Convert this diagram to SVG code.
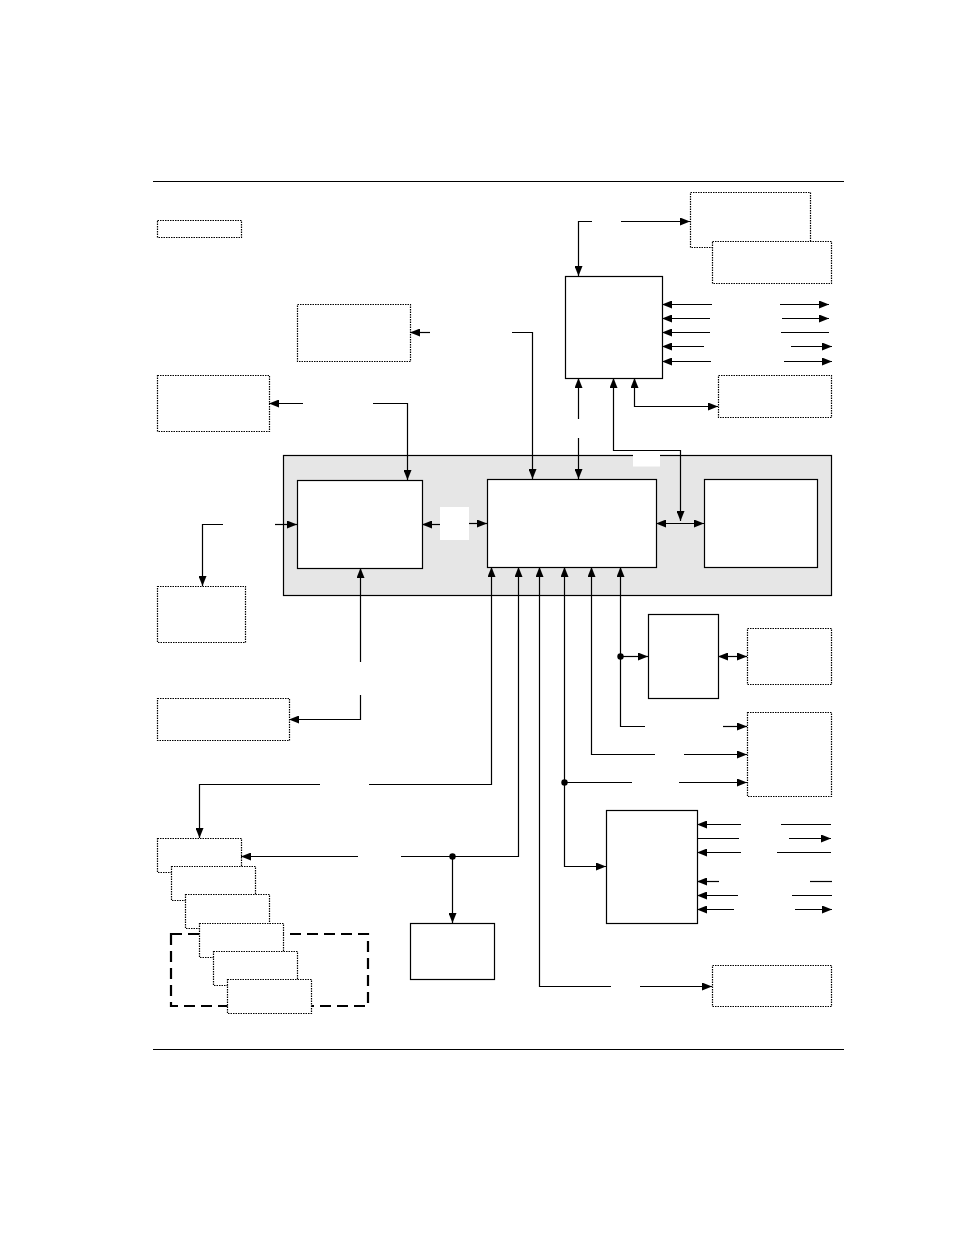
<svg xmlns="http://www.w3.org/2000/svg" width="954" height="1235" viewBox="0 0 954 1235">
<style>
.bg{fill:#ffffff}
.solid{fill:#ffffff;stroke:#000;stroke-width:1.2}
.dot{fill:#ffffff;stroke:#000;stroke-width:1.2;stroke-dasharray:1.5 1}
.dash{fill:none;stroke:#000;stroke-width:2.2;stroke-dasharray:11 6}
.gray{fill:#e6e6e6;stroke:#000;stroke-width:1.2}
.lbl{fill:#ffffff;stroke:none}
.c{fill:none;stroke:#000;stroke-width:1.2}
.a{marker-end:url(#ah)}
.b{marker-start:url(#ah)}
.rule{stroke:#000;stroke-width:1.2}
.j{fill:#000}
</style>
<defs>
<marker id="ah" viewBox="0 0 10 8" refX="10" refY="4" markerWidth="10" markerHeight="8" markerUnits="userSpaceOnUse" orient="auto-start-reverse"><path d="M0,0 L10,4 L0,8 z" fill="#000"/></marker>
</defs>
<rect class="bg" x="0" y="0" width="954" height="1235"/>
<line class="rule" x1="153" y1="181.5" x2="844" y2="181.5"/>
<line class="rule" x1="153" y1="1049.5" x2="844" y2="1049.5"/>

<g id="container"><rect class="gray" x="283.5" y="455.5" width="548" height="140"/></g>
<g id="legend"><rect class="dot" x="157.5" y="220.5" width="84" height="17"/></g>
<g id="boxA"><rect class="dot" x="297.5" y="304.5" width="113" height="57"/></g>
<g id="boxB"><rect class="dot" x="157.5" y="375.5" width="112" height="56"/></g>
<g id="boxC1"><rect class="dot" x="690.5" y="192.5" width="120" height="55"/></g>
<g id="boxC2"><rect class="dot" x="712.5" y="241.5" width="119" height="42"/></g>
<g id="boxD"><rect class="dot" x="718.5" y="375.5" width="113" height="42"/></g>
<g id="boxE"><rect class="dot" x="157.5" y="586.5" width="88" height="56"/></g>
<g id="boxF"><rect class="dot" x="157.5" y="698.5" width="132" height="42"/></g>
<g id="boxG"><rect class="dot" x="747.5" y="628.5" width="84" height="56"/></g>
<g id="boxH"><rect class="dot" x="747.5" y="712.5" width="84" height="84"/></g>
<g id="boxI"><rect class="dot" x="712.5" y="965.5" width="119" height="41"/></g>
<g id="boxJ"><rect class="solid" x="565.5" y="276.5" width="97" height="102"/></g>
<g id="boxK"><rect class="solid" x="297.5" y="480.5" width="125" height="88"/></g>
<g id="boxL"><rect class="solid" x="487.5" y="479.5" width="169" height="88"/></g>
<g id="boxM"><rect class="solid" x="704.5" y="479.5" width="113" height="88"/></g>
<g id="boxN"><rect class="solid" x="410.5" y="923.5" width="84" height="56"/></g>
<g id="boxO"><rect class="solid" x="606.5" y="810.5" width="91" height="113"/></g>
<g id="boxP"><rect class="solid" x="648.5" y="614.5" width="70" height="84"/></g>
<g id="group"><rect class="dash" x="171" y="934" width="197" height="72"/></g>
<g id="stack1"><rect class="dot" x="157.5" y="838.5" width="84" height="34"/></g>
<g id="stack2"><rect class="dot" x="171.5" y="866.5" width="84" height="34"/></g>
<g id="stack3"><rect class="dot" x="185.5" y="894.5" width="84" height="34"/></g>
<g id="stack4"><rect class="dot" x="199.5" y="923.5" width="84" height="34"/></g>
<g id="stack5"><rect class="dot" x="213.5" y="951.5" width="84" height="34"/></g>
<g id="stack6"><rect class="dot" x="227.5" y="979.5" width="84" height="34"/></g>

<g id="connectors">
<path class="c a" d="M592,221.5 H578.5 V276"/>
<path class="c a" d="M621,221.5 H690"/>
<path class="c a" d="M712,304.5 H662"/><path class="c a" d="M780,304.5 H829"/>
<path class="c a" d="M710,318.5 H662"/><path class="c a" d="M782,318.5 H829"/>
<path class="c a" d="M710,332.5 H662"/><path class="c" d="M781,332.5 H829"/>
<path class="c a" d="M704,346.5 H662"/><path class="c a" d="M791,346.5 H832"/>
<path class="c a" d="M711,361.5 H662"/><path class="c a" d="M784,361.5 H832"/>
<path class="c a" d="M578.5,419 V378"/>
<path class="c a" d="M578.5,438 V479"/>
<path class="c a b" d="M613.5,378 V450.5 H680.5 V521"/>
<path class="c a b" d="M634.5,378 V406.5 H718"/>
<path class="c a" d="M430,332.5 H410"/>
<path class="c a" d="M512,332.5 H532.5 V479"/>
<path class="c a" d="M303,403.5 H269"/>
<path class="c a" d="M373,403.5 H407.5 V480"/>
<path class="c a" d="M223,524.5 H202.5 V586"/>
<path class="c a" d="M275,524.5 H297"/>
<path class="c a" d="M440,524.5 H422"/>
<path class="c a" d="M469,523.5 H487"/>
<path class="c a b" d="M656,523.5 H704"/>
<path class="c a" d="M360.5,662 V568"/>
<path class="c a" d="M360.5,695 V719.5 H289"/>
<path class="c a" d="M369,784.5 H491.5 V567"/>
<path class="c a" d="M320,784.5 H199.5 V838"/>
<path class="c a" d="M401,856.5 H518.5 V567"/>
<path class="c a" d="M358,856.5 H241"/>
<path class="c a" d="M452.5,856.5 V923"/>
<circle class="j" cx="452.5" cy="856.5" r="3.2"/>
<path class="c a" d="M611,986.5 H539.5 V567"/>
<path class="c a" d="M640,986.5 H712"/>
<path class="c a b" d="M564.5,567 V866.5 H606"/>
<path class="c" d="M564.5,782.5 H632"/>
<circle class="j" cx="564.5" cy="782.5" r="3.2"/>
<path class="c a" d="M679,782.5 H747"/>
<path class="c b" d="M591.5,567 V754.5 H655"/>
<path class="c a" d="M684,754.5 H747"/>
<path class="c b" d="M620.5,567 V726.5 H645"/>
<path class="c a" d="M723,726.5 H747"/>
<path class="c a" d="M620.5,656.5 H648"/>
<circle class="j" cx="620.5" cy="656.5" r="3.2"/>
<path class="c a b" d="M718,656.5 H747"/>
<path class="c a" d="M741,824.5 H697"/><path class="c" d="M781,824.5 H831"/>
<path class="c" d="M697,838.5 H739"/><path class="c a" d="M789,838.5 H831"/>
<path class="c a" d="M741,852.5 H697"/><path class="c" d="M777,852.5 H831"/>
<path class="c a" d="M719,881.5 H697"/><path class="c" d="M810,881.5 H832"/>
<path class="c a" d="M738,895.5 H697"/><path class="c" d="M792,895.5 H832"/>
<path class="c a" d="M734,909.5 H697"/><path class="c a" d="M795,909.5 H832"/>
</g>
<g id="label-spaces">
<rect class="lbl" x="633" y="451.5" width="27" height="15"/>
<rect class="lbl" x="440" y="507" width="29" height="33"/>
</g>
</svg>
